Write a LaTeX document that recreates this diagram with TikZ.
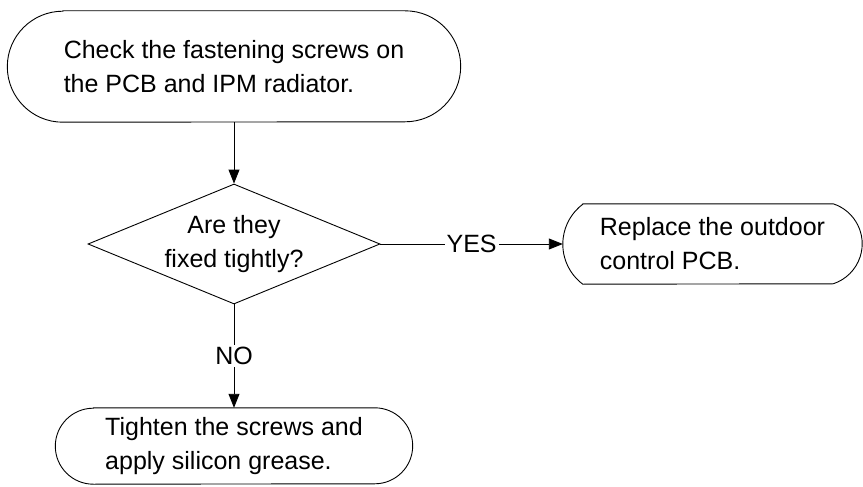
\documentclass[tikz,border=0pt]{standalone}
\usepackage{fontspec}
\setmainfont{Liberation Sans}
\usetikzlibrary{arrows.meta,shapes.geometric}
\begin{document}
\begin{tikzpicture}[x=1pt,y=1pt,
  every node/.style={font=\fontsize{25}{34}\selectfont},
  ln/.style={line width=0.9pt, draw=black},
  arr/.style={ln, -{Triangle[length=14pt,width=11pt]}},
  term/.style={inner sep=0pt, align=left},
  lbl/.style={fill=white, inner sep=2pt},
]
\useasboundingbox (0,0) rectangle (863,-487);

% top terminal
\node[term, minimum width=454pt, minimum height=111pt] (top) at (234,-66.5)
  {Check the fastening screws on\\the PCB and IPM radiator.};
\draw[ln] ([xshift=56pt]top.north west) -- ([xshift=-56pt]top.north east)
  arc[start angle=90,end angle=-90,radius=55.5]
  -- ([xshift=56pt]top.south west)
  arc[start angle=270,end angle=90,radius=55.5] -- cycle;

% decision
\node[diamond, ln, minimum width=292pt, minimum height=120pt, inner sep=0pt] (dia) at (234,-244) {};
\node[align=center, inner sep=0pt] (diat) at (234,-244) {Are they\\fixed tightly?};

% right terminal
\node[term, minimum width=299pt, minimum height=80pt] (rb) at (712.5,-244)
  {Replace the outdoor\\control PCB.};
\draw[ln] ([xshift=20pt]rb.north west) -- ([xshift=-29pt]rb.north east)
  arc[start angle=71.87,end angle=-71.87,radius=42.09]
  -- ([xshift=20pt]rb.south west)
  arc[start angle=233.13,end angle=126.87,radius=50] -- cycle;

% bottom terminal
\node[term, minimum width=357pt, minimum height=76pt] (bot) at (234,-446)
  {Tighten the screws and\\apply silicon grease.};
\draw[ln] ([xshift=38pt]bot.north west) -- ([xshift=-38pt]bot.north east)
  arc[start angle=90,end angle=-90,radius=38]
  -- ([xshift=38pt]bot.south west)
  arc[start angle=270,end angle=90,radius=38] -- cycle;

% connectors
\draw[arr] (top.south) -- (dia.north);
\draw[arr] (dia.east) -- node[lbl] {YES} (rb.west);
\draw[arr] (dia.south) -- node[lbl] {NO} (bot.north);
\end{tikzpicture}
\end{document}
